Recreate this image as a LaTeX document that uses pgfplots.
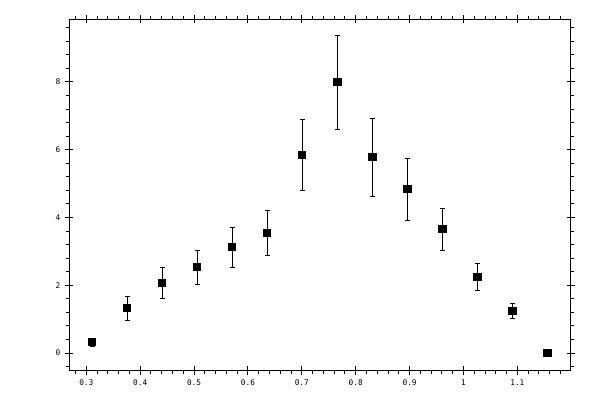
\documentclass[border=0pt]{standalone}
\usepackage{pgfplots}
\pgfplotsset{compat=1.18}
\usepackage{fontspec}
\setmonofont{DejaVu Sans Mono}

\pgfplotstableread{
x      y     e
0.311  0.32  0.12
0.376  1.32  0.35
0.441  2.06  0.45
0.506  2.53  0.50
0.571  3.12  0.59
0.636  3.54  0.66
0.701  5.84  1.05
0.766  7.99  1.39
0.831  5.78  1.15
0.896  4.83  0.92
0.961  3.65  0.62
1.026  2.24  0.40
1.091  1.23  0.22
1.156  0.00  0.00
}\spectrum

\pgfplotsset{
  common/.style={
    at={(69.3pt,29.7pt)}, anchor=south west,
    scale only axis, width=501.4pt, height=351pt,
    xmin=0.2684, xmax=1.199, ymin=-0.51, ymax=9.85,
    xtick={0.3,0.4,...,1.15}, ytick={0,2,...,8},
    axis line style={line width=1.2pt},
    every tick/.style={black, line width=1pt},
  }
}

\begin{document}
\begin{tikzpicture}
  \path[use as bounding box] (0,0) rectangle (600pt,400pt);
  \begin{axis}[common,
      tick align=outside,
      major tick length=4.5pt, minor tick length=3.2pt,
      minor xtick={0.28,0.30,...,1.19},
      minor ytick={-0.4,0,...,9.7},
      tick label style={font=\ttfamily\fontsize{7.8}{8}\selectfont},
      /pgf/number format/assume math mode=true,
      xticklabel style={yshift=-1.5pt},
      yticklabel style={xshift=-1pt},
    ]
    \addplot[black, line width=1pt, only marks, mark=square*,
      mark size=3.6pt, mark options={fill=black},
      error bars/.cd, y dir=both, y explicit,
      error mark options={rotate=90, mark size=2.6pt, line width=1pt}]
      table[x=x, y=y, y error=e] {\spectrum};
  \end{axis}
  \begin{axis}[common,
      tick align=inside, major tick length=4pt,
      xticklabels={}, yticklabels={},
    ]
  \end{axis}
\end{tikzpicture}
\end{document}
